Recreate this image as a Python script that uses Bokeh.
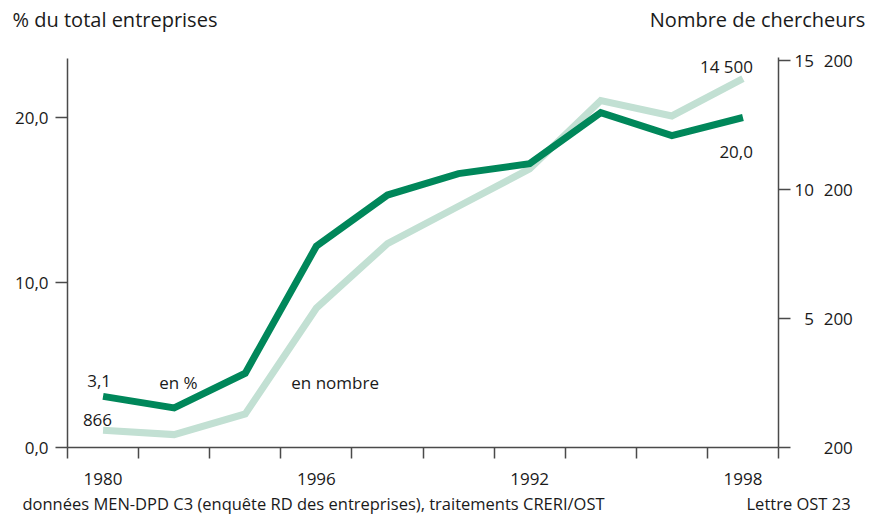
from bokeh.plotting import figure
from bokeh.models import Range1d, LinearAxis, FixedTicker, Label
from bokeh.embed import file_html
from bokeh.resources import INLINE

# ---- data ----
year_labels = ["1980", "1996", "1992", "1998"]
label_index = [0, 3, 6, 9]
pct = [3.1, 2.4, 4.5, 12.2, 15.3, 16.6, 17.2, 20.3, 18.9, 20.0]
researchers = [866, 700, 1500, 5600, 8100, 9550, 11000, 13650, 13050, 14500]
left_ticks = [0, 10, 20]
right_ticks = [200, 5200, 10200, 15200]
left_title = "% du total entreprises"
right_title = "Nombre de chercheurs"
source_note = "données MEN-DPD C3 (enquête RD des entreprises), traitements CRERI/OST"
credit = "Lettre OST 23"

DARK = "#00875a"
LIGHT = "#c2e0d3"
AXIS = "#4a4a4a"
TXT = "#1a1a1a"
FONT = "Open Sans"

n = len(pct)
xs = [i + 0.5 for i in range(n)]

p = figure(width=877, height=517, x_range=Range1d(0, n), y_range=Range1d(0, 24.667),
           output_backend="svg", toolbar_location=None,
           x_axis_location=None, y_axis_location=None,
           min_border_left=67, min_border_right=99, min_border_top=40, min_border_bottom=70)
p.extra_y_ranges = {"n": Range1d(200, 15975)}
p.xgrid.visible = False
p.ygrid.visible = False
p.outline_line_color = None


def style_labels(ax, size="17px"):
    ax.major_label_text_font = FONT
    ax.major_label_text_font_size = size
    ax.major_label_text_color = TXT


def text_axis(ax):
    ax.axis_line_color = None
    ax.major_tick_line_color = None
    ax.minor_tick_line_color = None
    ax.major_tick_out = 0
    ax.major_tick_in = 0
    ax.minor_tick_out = 0
    ax.minor_tick_in = 0


def line_axis(ax, tick_out):
    ax.major_tick_out = tick_out
    ax.major_tick_in = 0
    ax.major_tick_line_color = AXIS
    ax.major_tick_line_width = 1.5
    ax.axis_line_color = AXIS
    ax.axis_line_width = 1.5


# header texts, carried by a bare axis above the frame
head = LinearAxis()
head_pos = [0.668, 9.705]
head.ticker = FixedTicker(ticks=head_pos, minor_ticks=[])
head.major_label_overrides = {head_pos[0]: left_title, head_pos[1]: right_title}
text_axis(head)
style_labels(head, "20px")
head.major_label_standoff = 8
p.add_layout(head, "above")

# year axis
xa = LinearAxis()
xa.ticker = FixedTicker(ticks=[i + 0.5 for i in label_index], minor_ticks=list(range(n + 1)))
xa.major_label_overrides = {i + 0.5: lab for i, lab in zip(label_index, year_labels)}
line_axis(xa, 0)
xa.minor_tick_out = 11
xa.minor_tick_in = 0
xa.minor_tick_line_color = AXIS
xa.minor_tick_line_width = 1.5
xa.major_label_standoff = 14
style_labels(xa)
p.add_layout(xa, "below")

# footer texts, carried by a second bare axis below
foot = LinearAxis()
foot_pos = [3.46, 9.95]
foot.ticker = FixedTicker(ticks=foot_pos, minor_ticks=[])
foot.major_label_overrides = {foot_pos[0]: source_note, foot_pos[1]: "\u2007" * 5 + credit}
text_axis(foot)
style_labels(foot, "16.5px")
foot.major_label_standoff = 4
p.add_layout(foot, "below")

# left axis
ya = LinearAxis()
ya.bounds = (0, 23.58)
ya.ticker = FixedTicker(ticks=left_ticks, minor_ticks=[])
ya.major_label_overrides = {t: f"{t:.1f}".replace(".", ",") for t in left_ticks}
line_axis(ya, 12)
ya.minor_tick_line_color = None
ya.major_label_standoff = 7
style_labels(ya)
p.add_layout(ya, "left")


def fmt_right(t):
    s = f"{t:,}".replace(",", "\u2007")
    return "\u2007" * (6 - len(s)) + s


ra = LinearAxis(y_range_name="n")
ra.bounds = (200, 15320)
ra.ticker = FixedTicker(ticks=right_ticks, minor_ticks=[])
ra.major_label_overrides = {t: fmt_right(t) for t in right_ticks}
line_axis(ra, 12)
ra.minor_tick_line_color = None
ra.major_label_standoff = 4
style_labels(ra)
p.add_layout(ra, "right")

p.line(xs, researchers, y_range_name="n", line_color=LIGHT, line_width=7, line_join="miter")
p.line(xs, pct, line_color=DARK, line_width=7, line_join="miter")


def lab(text, x, y, xo, yo, align, rng="default", size="17px"):
    p.add_layout(Label(x=x, y=y, x_offset=xo, y_offset=yo, text=text, text_align=align,
                       text_baseline="alphabetic", y_range_name=rng,
                       text_font=FONT, text_font_size=size, text_color=TXT))


lab(f"{pct[0]:.1f}".replace(".", ","), xs[0], pct[0], 8, 15, "right")
lab(f"{researchers[0]}", xs[0], researchers[0], 9, 10, "right", "n")
lab("en %", xs[1], pct[1], -15, 25, "left")
lab("en nombre", xs[2], researchers[2], 46, 31, "left", "n")
lab(f"{researchers[-1]:,}".replace(",", " "), xs[-1], researchers[-1], 10, 12, "right", "n")
lab(f"{pct[-1]:.1f}".replace(".", ","), xs[-1], pct[-1], 10, -34, "right")

open("out.html", "w").write(file_html(p, INLINE))
